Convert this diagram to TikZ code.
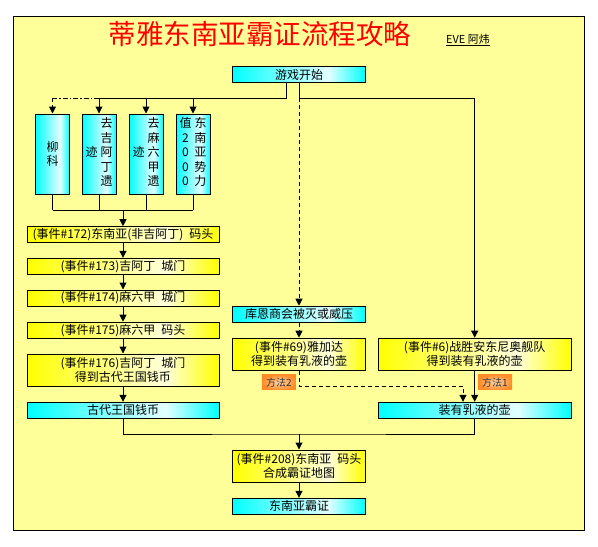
\documentclass[tikz,border=0pt]{standalone}
\usepackage{fontspec}
\newfontfamily\cjk{Noto Sans CJK SC}
\usetikzlibrary{arrows.meta}
\definecolor{bgyel}{RGB}{255,255,153}
\definecolor{cyanA}{RGB}{0,255,255}
\definecolor{cyanB}{RGB}{228,255,255}
\definecolor{yelA}{RGB}{255,255,0}
\definecolor{yelB}{RGB}{255,255,220}
\definecolor{oraA}{RGB}{255,140,40}
\definecolor{oraB}{RGB}{255,215,170}
\pgfdeclarehorizontalshading{cyanbar}{100bp}{color(0bp)=(cyanA); color(25bp)=(cyanA); color(61bp)=(cyanB); color(75bp)=(cyanA); color(100bp)=(cyanA)}
\pgfdeclarehorizontalshading{yelbar}{100bp}{color(0bp)=(yelA); color(25bp)=(yelA); color(61bp)=(yelB); color(75bp)=(yelA); color(100bp)=(yelA)}
\newcommand\jgap{\hspace{.5em}}
\begin{document}
\begin{tikzpicture}[x=1pt,y=-1pt,line width=1pt,font=\cjk\fontsize{12}{14}\selectfont,
box/.style={draw,inner sep=0pt,align=center},
cbox/.style={box,shading=cyanbar},
ybox/.style={box,shading=yelbar},
lw/.style={minimum width=192pt},
mw/.style={minimum width=133pt},
rw/.style={minimum width=192.7pt},
one/.style={minimum height=16pt},
two/.style={minimum height=32pt},
vbox/.style={cbox,minimum width=34pt,minimum height=80pt,font=\cjk\fontsize{12}{14.5}\selectfont},
tag/.style={inner sep=0pt,minimum width=34pt,minimum height=15.5pt,inner color=oraB,outer color=oraA,text=black!80,font=\cjk\fontsize{10}{12}\selectfont},
arr/.style={-{Triangle[length=7pt,width=7pt]}},
dsh/.style={dash pattern=on 4pt off 3pt}]
\useasboundingbox (0,0) rectangle (598,547);
\filldraw[fill=bgyel] (13,16) rectangle (584,530);
\node[text=red,font=\cjk\fontsize{27.5}{30}\selectfont] (title) at (260,34) {蒂雅东南亚霸证流程攻略};
\node[font=\cjk\fontsize{11}{13}\selectfont] (author) at (468,40) {\underline{EVE 阿炜}};
\node[cbox,mw,minimum height=15.5pt] (start) at (299,74.5) {游戏开始};
\node[vbox] (liu) at (52.5,154) {柳\\科};
\node[vbox] (jia) at (99,154) {\begin{tabular}{@{}c@{\hspace{3pt}}c@{}}&去\\&吉\\迹&阿\\&丁\\&遗\end{tabular}};
\node[vbox] (ma) at (146,154) {\begin{tabular}{@{}c@{\hspace{3pt}}c@{}}&去\\&麻\\迹&六\\&甲\\&遗\end{tabular}};
\node[vbox] (sea) at (193,154) {\begin{tabular}{@{}c@{\hspace{3pt}}c@{}}值&东\\2&南\\0&亚\\0&势\\0&力\end{tabular}};
\node[ybox,lw,one] (e172) at (123,234.7) {(事件\#172)东南亚(非吉阿丁)\jgap 码头};
\node[ybox,lw,one] (e173) at (123,266.3) {(事件\#173)吉阿丁\jgap 城门};
\node[ybox,lw,one] (e174) at (123,298) {(事件\#174)麻六甲\jgap 城门};
\node[ybox,lw,one] (e175) at (123,330.2) {(事件\#175)麻六甲\jgap 码头};
\node[ybox,lw,two] (e176) at (123,370) {(事件\#176)吉阿丁\jgap 城门\\得到古代王国钱币};
\node[cbox,lw,one] (coin) at (123,410.3) {古代王国钱币};
\node[cbox,mw,one] (kun) at (299,314.2) {库恩商会被灭或威压};
\node[ybox,mw,two] (e69) at (299,354.2) {(事件\#69)雅加达\\得到装有乳液的壶};
\node[ybox,rw,two] (e6) at (474.7,354.2) {(事件\#6)战胜安东尼奥舰队\\得到装有乳液的壶};
\node[tag] (way2) at (278.8,382.2) {方法2};
\node[tag] (way1) at (495,382.2) {方法1};
\node[cbox,rw,one] (jar) at (474.7,410.3) {装有乳液的壶};
\node[ybox,mw,two] (e208) at (299,466) {(事件\#208)东南亚\jgap 码头\\合成霸证地图};
\node[cbox,mw,one] (final) at (299,506.3) {东南亚霸证};
\coordinate (splitL) at (286,98);
\coordinate (splitR) at (299,98);
\coordinate (vjoin) at (123,210);
\coordinate (m2) at (463,386);
\coordinate (bjoin) at (299,434);
\draw (start.south -| splitL) -- (splitL) -- (splitL -| jia.north);
\foreach \v in {jia,ma,sea} \draw[arr] (splitL -| \v.north) -- (\v.north);
\draw[dash pattern=on 5pt off 2pt on 1.5pt off 2pt] (splitL -| jia.north) -- (splitL -| liu.north);
\draw[dsh,arr] (splitL -| liu.north) -- (liu.north);
\draw[arr] (start.south) -- (splitR) -| (e6.north);
\draw[dsh,arr] (splitR) -- (kun.north);
\foreach \v in {liu,jia,ma,sea} \draw (\v.south) -- (\v.south |- vjoin);
\draw (liu.south |- vjoin) -- (sea.south |- vjoin);
\draw[arr] (vjoin) -- (e172.north);
\foreach \a/\b in {e172/e173,e173/e174,e174/e175,e175/e176,e176/coin} \draw[arr] (\a.south) -- (\b.north);
\draw[dsh,arr] (kun.south) -- (e69.north);
\draw[dsh,arr] (e69.south) |- (m2) -- (m2 |- jar.north);
\draw[arr] (e6.south) -- (jar.north);
\draw (coin.south) |- (bjoin) -| (jar.south);
\draw[arr] (bjoin) -- (e208.north);
\draw[arr] (e208.south) -- (final.north);
\end{tikzpicture}
\end{document}
